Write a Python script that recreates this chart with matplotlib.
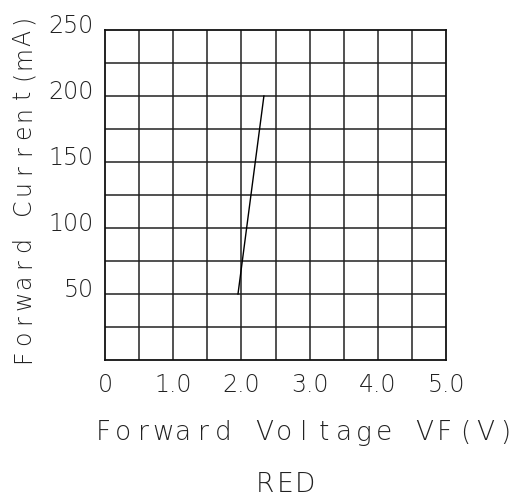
import numpy as np
import matplotlib.pyplot as plt
from matplotlib import transforms

plt.rcParams["font.family"] = "DejaVu Sans"

W, H = 532, 499

# forward voltage (V) vs forward current (mA)
vf = [1.95, 2.33]
i_f = [50, 200]

x_ticks = [0, 1, 2, 3, 4, 5]
x_labels = ["0", "1.0", "2.0", "3.0", "4.0", "5.0"]
y_ticks = [50, 100, 150, 200, 250]
y_labels = ["50", "100", "150", "200", "250"]

TXT = "#222222"


def spaced_text(fig, cx, cy, s, pitch, size, vertical=False):
    # draw text one char at a time with a fixed pitch (CAD-like lettering)
    n = len(s)
    for k, ch in enumerate(s):
        off = (k - (n - 1) / 2) * pitch
        if vertical:
            px, py = cx, cy - off
            rot = 90
        else:
            px, py = cx + off, cy
            rot = 0
        fig.text(px / W, 1 - py / H, ch, ha="center", va="center",
                 rotation=rot, fontsize=size, color=TXT, fontweight="light")


fig = plt.figure(figsize=(W / 100, H / 100), dpi=100)
ax = fig.add_axes([105 / W, 139 / H, 341 / W, 330 / H])

ax.set_xlim(0, 5)
ax.set_ylim(0, 250)

# grid every 0.5 V and 25 mA
for gx in np.arange(0.5, 5, 0.5):
    ax.axvline(gx, color="#222222", lw=1.1)
for gy in np.arange(25, 250, 25):
    ax.axhline(gy, color="#222222", lw=1.1)

ax.plot(vf, i_f, color="black", lw=1.0)

for s in ax.spines.values():
    s.set_linewidth(1.3)
    s.set_color("#111111")

ax.set_xticks(x_ticks)
ax.set_xticklabels(x_labels, fontsize=17, color=TXT, fontweight="light")
ax.set_yticks(y_ticks)
ax.set_yticklabels(y_labels, fontsize=17, color=TXT, fontweight="light")
ax.tick_params(axis="x", length=0, pad=9)
ax.tick_params(axis="y", length=0, pad=8)
shift = transforms.ScaledTranslation(0, 4 / 100, fig.dpi_scale_trans)
for lab in ax.get_yticklabels():
    lab.set_verticalalignment("center")
    lab.set_transform(lab.get_transform() + shift)

spaced_text(fig, 304, 433, "Forward Voltage VF(V)", 20.1, 19)
spaced_text(fig, 285, 484, "RED", 20.1, 19)
spaced_text(fig, 23, 188, "Forward Current(mA)", 18.7, 17, vertical=True)

plt.savefig("out.png", dpi=100)
